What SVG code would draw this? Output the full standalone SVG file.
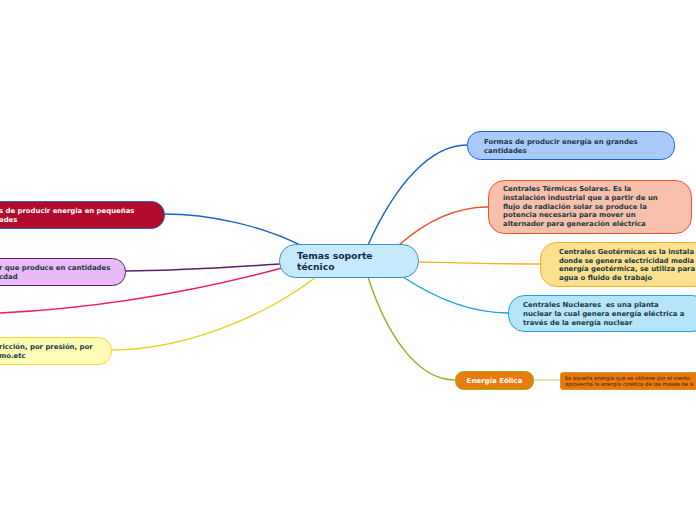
<svg xmlns="http://www.w3.org/2000/svg" width="696" height="520" viewBox="0 0 696 520">
<style>
.t{font-family:"DejaVu Sans",Verdana,sans-serif;font-weight:bold;font-size:6.9px;fill:#173a45}
.w{fill:#ffffff}
.s{font-family:"DejaVu Sans",Verdana,sans-serif;font-size:5.3px;fill:#3a2410}
.c{fill:none;stroke-width:1.4}
</style>
<rect width="696" height="520" fill="#ffffff"/>
<g id="connectors">
<path class="c" stroke="#1e62c9" d="M300,245 C262,226 210,214 164,214"/>
<path class="c" stroke="#5c1e6a" d="M280,264 C220,268 170,271 125,271"/>
<path class="c" stroke="#f0186a" d="M282,268 C200,290 100,308 0,313"/>
<path class="c" stroke="#e8d020" d="M316,277 C260,320 180,350 111,350"/>
<path class="c" stroke="#1e62c9" d="M368,245 C395,185 430,145 467,145"/>
<path class="c" stroke="#f0522a" d="M399,245 C425,222 455,207 488,207"/>
<path class="c" stroke="#f6b21c" d="M418,262 C460,263 500,264 540,264"/>
<path class="c" stroke="#1aa3e0" d="M403,277 C435,298 470,313 508,313"/>
<path class="c" stroke="#8ab820" d="M368,277 C385,330 415,380 455,380"/>
<path class="c" stroke="#c8e29c" d="M533,380 L560,380"/>
</g>
<g id="center">
<rect x="279.5" y="244.5" width="139" height="33" rx="16" fill="#c5eafb" stroke="#3a8fd0"/>
<text class="t" style="font-size:9.2px;fill:#142a50" x="297" y="259">Temas soporte</text>
<text class="t" style="font-size:9.2px;fill:#142a50" x="297" y="270">técnico</text>
</g>
<g id="n-grandes">
<rect x="467.5" y="131.5" width="207" height="28" rx="13" fill="#a8cbfb" stroke="#1e62c9"/>
<text class="t" x="484" y="144">Formas de producir energía en grandes</text>
<text class="t" x="484" y="153">cantidades</text>
</g>
<g id="n-solares">
<rect x="488.5" y="180.5" width="203" height="53" rx="16" fill="#f8bfab" stroke="#f0522a"/>
<text class="t" x="503" y="191">Centrales Térmicas Solares. Es la</text>
<text class="t" x="503" y="200">instalación industrial que a partir de un</text>
<text class="t" x="503" y="208.5">flujo de radiación solar se produce la</text>
<text class="t" x="503" y="217">potencia necesaria para mover un</text>
<text class="t" x="503" y="226">alternador para generación eléctrica</text>
</g>
<g id="n-geo">
<rect x="540.5" y="242.5" width="170" height="44" rx="16" fill="#fde08f" stroke="#f6b21c"/>
<text class="t" x="559" y="254" textLength="135" lengthAdjust="spacingAndGlyphs">Centrales Geotérmicas es la instala</text>
<text class="t" x="559" y="262.5" textLength="135" lengthAdjust="spacingAndGlyphs">donde se genera electricidad media</text>
<text class="t" x="559" y="271">energía geotérmica, se utiliza para</text>
<text class="t" x="559" y="280">agua o fluido de trabajo</text>
</g>
<g id="n-nucleares">
<rect x="508.5" y="295.5" width="200" height="36" rx="16" fill="#b6e4fa" stroke="#1aa3e0"/>
<text class="t" x="523" y="307" xml:space="preserve">Centrales Nucleares  es una planta</text>
<text class="t" x="523" y="315.5">nuclear la cual genera energía eléctrica a</text>
<text class="t" x="523" y="324.5">través de la energía nuclear</text>
</g>
<g id="n-eolica">
<rect x="455.5" y="371.5" width="78" height="18" rx="8" fill="#ec7b0f" stroke="#8ab820"/>
<text class="t w" x="494.5" y="383" text-anchor="middle" style="font-size:7px">Energía Eólica</text>
</g>
<g id="n-eolica-desc">
<rect x="560.5" y="372.5" width="150" height="17" rx="2" fill="#e8780e" stroke="#d49a20"/>
<text class="s" x="565" y="379.5">Es aquella energía que se obtiene por el viento</text>
<text class="s" x="565" y="386">aprovecha la energía cinética de las masas de a</text>
</g>
<g id="n-pequenas">
<rect x="-40.5" y="201.5" width="205" height="27" rx="13" fill="#b30b2c" stroke="#2b5fc7"/>
<text class="t w" x="-1" y="213">s de producir energia en pequeñas</text>
<text class="t w" x="-1" y="222">ades</text>
</g>
<g id="n-cantidades">
<rect x="-40.5" y="258.5" width="166" height="27" rx="13" fill="#e9b9f8" stroke="#5c1e6a"/>
<text class="t" x="-1" y="270">r que produce en cantidades</text>
<text class="t" x="-1" y="279">cdad</text>
</g>
<g id="n-friccion">
<rect x="-40.5" y="337.5" width="152" height="27" rx="13" fill="#fffab4" stroke="#f0d830"/>
<text class="t" x="-1" y="349">ricción, por presión, por</text>
<text class="t" x="-1" y="358">mo.etc</text>
</g>
</svg>
